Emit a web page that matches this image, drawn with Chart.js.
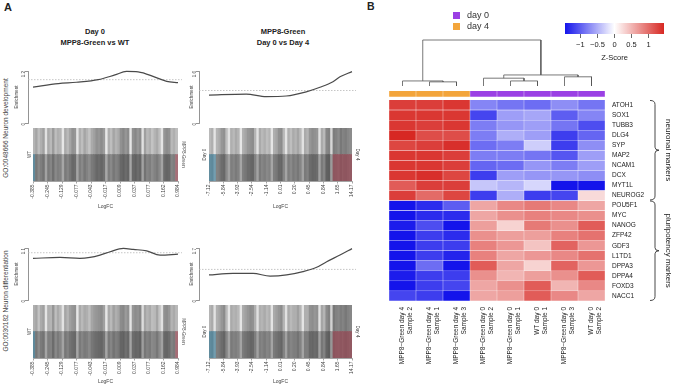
<!DOCTYPE html>
<html>
<head>
<meta charset="utf-8">
<title>Barcode plots and marker heatmap</title>
<script src="https://cdn.jsdelivr.net/npm/chart.js@4.4.1/dist/chart.umd.min.js"></script>
<style>
  html, body { margin: 0; padding: 0; background: #fff; }
  body { position: relative; width: 676px; height: 385px; overflow: hidden;
         font-family: "Liberation Sans", Arial, sans-serif; color: #222; }
  canvas { position: absolute; }
  .lbl { position: absolute; white-space: nowrap; }
  .title { position: absolute; width: 160px; text-align: center; font-size: 7.5px;
           font-weight: bold; line-height: 11px; color: #222; }
  .go { position: absolute; font-size: 6.5px; color: #444; white-space: nowrap;
        transform: translate(-50%, -50%) rotate(-90deg); }
  .key { position: absolute; font-size: 9px; color: #333; line-height: 11px; white-space: nowrap; }
  .key i { display: inline-block; width: 7px; height: 7px; margin-right: 7px; vertical-align: -0.5px; }
</style>
</head>
<body>
<div class="lbl" style="left:4px;top:1px;font-size:11px;font-weight:bold;">A</div>
<div class="lbl" style="left:367px;top:0px;font-size:10.5px;font-weight:bold;">B</div>
<div class="title" style="left:15px;top:26px;">Day 0<br>MPP8-Green vs WT</div>
<div class="title" style="left:203px;top:26px;">MPP8-Green<br>Day 0 vs Day 4</div>
<div class="go" style="left:5px;top:128px;">GO:0048666 Neuron development</div>
<div class="go" style="left:5px;top:301px;">GO:0030182 Neuron differentiation</div>

<canvas id="eTL" width="182" height="70" style="left:0px;top:60px"></canvas>
<canvas id="bTL" width="170" height="84" style="left:20px;top:126px"></canvas>
<canvas id="eTR" width="185" height="70" style="left:171px;top:60px"></canvas>
<canvas id="bTR" width="169" height="84" style="left:196px;top:126px"></canvas>
<canvas id="eBL" width="182" height="70" style="left:0px;top:237px"></canvas>
<canvas id="bBL" width="170" height="82" style="left:20px;top:303px"></canvas>
<canvas id="eBR" width="185" height="70" style="left:171px;top:237px"></canvas>
<canvas id="bBR" width="169" height="82" style="left:196px;top:303px"></canvas>

<canvas id="dendro" width="240" height="60" style="left:380px;top:30px"></canvas>
<canvas id="heat" width="296" height="305" style="left:380px;top:80px"></canvas>
<canvas id="zbar" width="121" height="50" style="left:555px;top:15px"></canvas>

<script>
// ---------- Panel A data: enrichment curves (x = relative rank position 0..1) ----------
const devWtPos   = [0, 0.175, 0.3, 0.45, 0.565, 0.645, 0.725, 0.841, 0.922, 1];
const devWtVal   = [0.83, 0.91, 0.94, 1.0, 1.11, 1.19, 1.18, 1.06, 0.96, 0.93];
const devDayPos  = [0, 0.26, 0.4, 0.54, 0.68, 0.776, 0.867, 0.916, 1];
const devDayVal  = [0.86, 0.89, 0.81, 0.83, 0.96, 1.10, 1.27, 1.42, 1.58];
const difWtPos   = [0, 0.186, 0.324, 0.393, 0.462, 0.531, 0.623, 0.692, 0.784, 0.876, 1];
const difWtVal   = [0.88, 0.90, 0.88, 0.90, 0.95, 1.02, 1.09, 1.07, 1.04, 0.95, 0.97];
const difDayPos  = [0, 0.168, 0.308, 0.427, 0.543, 0.657, 0.753, 0.823, 0.916, 1];
const difDayVal  = [0.82, 0.87, 0.87, 0.78, 0.82, 0.93, 1.07, 1.25, 1.47, 1.68];

// y-axis upper tick of each enrichment plot
const yTopDevWt = 1.2, yTopDevDay = 1.6, yTopDifWt = 1.1, yTopDifDay = 1.7;

// barcode stripe grey levels (top half), left to right
const devWtBars = [
  180,165,190,175,160,225,170,185,155,190,175,180,230,170,185,165,145,150,228,175,
  190,165,180,195,170,160,145,150,140,155,232,175,190,165,180,170,145,135,150,140,
  230,145,135,150,140,225,160,185,175,195,180,170,190,228,150,140,145,185,175,190];
const devDayBars = [
  185,175,228,180,170,150,145,190,225,175,185,170,180,230,175,165,150,145,140,180,
  226,170,185,175,190,180,230,175,165,145,140,185,228,175,190,170,180,165,185,225,
  170,180,150,140,145,150,226,170,185,135,130,215,125,130,140,120,130,125,135,140];
const difWtBars = [
  175,165,195,170,160,228,175,180,150,190,170,185,226,165,180,160,150,145,230,170,
  185,170,175,190,165,155,150,145,140,160,230,170,185,160,175,165,140,135,155,145,
  228,150,140,145,135,220,165,180,170,190,185,165,195,225,145,140,150,180,170,185];
const difDayBars = [
  180,170,226,175,165,150,140,185,228,170,180,175,185,228,170,160,150,140,145,175,
  225,175,180,170,185,175,228,170,160,150,140,180,225,170,185,175,175,160,180,228,
  175,175,145,140,150,145,225,165,180,140,130,210,120,130,135,125,130,120,130,135];

// number of stripes in the down (blue) / up (red) ends
const wtDownN = 1, wtUpN = 1, dayDownN = 3, dayUpN = 8;

// LogFC quantile labels under the barcodes
const wtTicks  = ["-0.385","-0.245","-0.129","-0.077","-0.043","-0.017","0.009","0.037","0.077","0.162","0.984"];
const dayTicks = ["-7.12","-5.84","-3.93","-2.54","-1.14","0.01","0.20","0.45","0.84","1.65","14.17"];

// ---------- Panel B data ----------
const genes = ["ATOH1","SOX1","TUBB3","DLG4","SYP","MAP2","NCAM1","DCX","MYT1L","NEUROG2",
               "POU5F1","MYC","NANOG","ZFP42","GDF3","L1TD1","DPPA3","DPPA4","FOXD3","NACC1"];
const samples = [
  ["MPP8\u2212Green day 4","Sample 2"], ["MPP8\u2212Green day 4","Sample 1"],
  ["MPP8\u2212Green day 4","Sample 3"], ["MPP8\u2212Green day 0","Sample 2"],
  ["MPP8\u2212Green day 0","Sample 1"], ["WT day 0","Sample 1"],
  ["MPP8\u2212Green day 0","Sample 3"], ["WT day 0","Sample 2"]];
const sampleDay = ["day 4","day 4","day 4","day 0","day 0","day 0","day 0","day 0"];
const zScores = [
  [1.30, 1.30, 1.35, -0.75, -0.85, -0.90, -0.70, -0.85],
  [1.35, 1.35, 1.35, -1.15, -0.60, -0.55, -1.00, -0.75],
  [1.35, 1.30, 1.35, -0.80, -0.65, -0.60, -0.85, -1.10],
  [1.45, 1.20, 1.20, -0.80, -0.50, -0.60, -1.20, -0.95],
  [1.25, 1.30, 1.40, -0.90, -0.80, -0.30, -1.20, -0.70],
  [1.35, 1.35, 1.30, -0.80, -0.80, -0.85, -1.05, -0.60],
  [1.35, 1.35, 1.30, -0.95, -0.90, -0.65, -0.80, -0.60],
  [1.35, 1.40, 1.25, -1.20, -0.60, -0.65, -0.65, -0.70],
  [1.10, 1.30, 1.30, -0.35, -0.45, -0.25, -1.50, -1.50],
  [1.30, 1.00, 1.25, -1.20, -0.50, -1.20, -1.15,  0.25],
  [-1.50, -1.30, -1.00, 0.60, 0.80, 0.90, 0.80, 0.60],
  [-1.45, -1.30, -1.30, 0.60, 0.75, 0.85, 0.80, 0.75],
  [-1.40, -1.10, -1.50, 0.65, 0.30, 0.90, 0.75, 1.10],
  [-1.50, -1.20, -1.30, 0.75, 0.65, 0.65, 0.85, 0.95],
  [-1.50, -1.20, -1.20, 0.85, 0.70, 0.40, 1.05, 0.70],
  [-1.45, -1.20, -1.35, 0.85, 0.60, 0.70, 0.80, 0.95],
  [-1.50, -0.90, -1.55, 1.10, 0.60, 0.30, 1.05, 0.70],
  [-1.40, -1.20, -1.20, 0.75, 0.50, 0.65, 0.75, 1.10],
  [-1.50, -1.20, -1.15, 0.60, 0.75, 1.10, 0.50, 0.80],
  [-1.15, -1.20, -1.50, 0.60, 0.65, 1.10, 0.80, 0.60]];
const geneGroups = [
  { label: "neuronal markers", first: 0, last: 9 },
  { label: "pluripotency markers", first: 10, last: 19 }];

// column dendrogram, hclust style: negative = leaf (1-based), positive = earlier merge
const dendroMerge  = [[-2, -3], [-1, 1], [-5, -6], [-4, 3], [-7, -8], [4, 5], [2, 6]];
const dendroHeight = [0.9, 1.1, 1.1, 1.7, 2.0, 2.4, 10];

const zTicks = [-1, -0.5, 0, 0.5, 1];
const zLimit = 1.45;
const dayColors = { "day 0": "#9b40e4", "day 4": "#f3a53b" };

// ---------- helpers ----------
Chart.defaults.font.family = '"Liberation Sans", Arial, sans-serif';

const rgb = (r, g, b) => `rgb(${Math.round(r)},${Math.round(g)},${Math.round(b)})`;
const mix = (a, b, t) => a.map((v, i) => v + (b[i] - v) * t);

function zColor(z) {
  const t = Math.min(1, Math.abs(z) / zLimit);
  const end = z < 0 ? [20, 20, 235] : [215, 40, 35];
  return rgb(...end.map(v => 255 + (v - 255) * t));
}

const noPlugins = { legend: { display: false }, tooltip: { enabled: false } };

function enrichmentChart(id, pos, vals, yTop, xMin, titlePad) {
  return new Chart(document.getElementById(id), {
    type: "line",
    data: {
      datasets: [
        { data: pos.map((x, i) => ({ x: x, y: vals[i] })), borderColor: "#4a4a4a", borderWidth: 1.2,
          pointRadius: 0, cubicInterpolationMode: "monotone", clip: false },
        { data: [{ x: xMin, y: 1 }, { x: 1.03, y: 1 }], borderColor: "#b8b8b8", borderWidth: 0.8,
          borderDash: [1.5, 1.5], pointRadius: 0, clip: false }
      ]
    },
    options: {
      responsive: false, animation: false,
      layout: { padding: { top: 11, right: 4, bottom: 7 } },
      plugins: noPlugins,
      scales: {
        x: { type: "linear", min: xMin, max: 1, display: false },
        y: {
          min: 0, max: yTop,
          afterFit: s => { s.width = 28; },
          afterBuildTicks: s => { s.ticks = [{ value: 0 }, { value: yTop }]; },
          grid: { drawOnChartArea: false, tickLength: 3, color: "#666", lineWidth: 0.7 },
          border: { color: "#666", width: 0.7 },
          ticks: { font: { size: 4.5 }, color: "#444", padding: 1, minRotation: 90, maxRotation: 90 },
          title: { display: true, text: "Enrichment", font: { size: 4.5 }, color: "#444", padding: { top: titlePad } }
        }
      }
    }
  });
}

function barcodeChart(id, grays, downN, upN, tickLabels, leftLabel, rightLabel, axisH, sides) {
  const n = grays.length;
  const idx = grays.map((g, i) => i);
  const topCol = grays.map(g => rgb(g, g, g));
  const botCol = grays.map((g, i) => {
    let c = [g * 0.72, g * 0.72, g * 0.72];
    if (i < downN) c = mix(c, [55, 150, 190], 0.45);
    if (i >= n - upN) c = mix(c, [205, 80, 100], 0.45);
    return rgb(...c);
  });
  const side = (pos, text, w, pad) => ({
    min: 0, max: 2, position: pos, stacked: true,
    afterFit: s => { s.width = w; },
    ticks: { display: false }, grid: { display: false }, border: { display: false },
    title: { display: true, text: text, font: { size: 4.5 }, color: "#444", padding: { top: pad } }
  });
  return new Chart(document.getElementById(id), {
    type: "bar",
    data: {
      datasets: [
        // lower half (darker, tinted at the ends) and upper half of each stripe, stacked
        { data: idx.map(i => ({ x: i, y: 1 })), backgroundColor: botCol },
        { data: idx.map(i => ({ x: i, y: 1 })), backgroundColor: topCol }
      ]
    },
    options: {
      responsive: false, animation: false,
      layout: { padding: { top: 2 } },
      plugins: noPlugins,
      datasets: { bar: { barPercentage: 1, categoryPercentage: 1, borderWidth: 0 } },
      scales: {
        x: {
          type: "linear", min: -0.5, max: n - 0.5, offset: false, stacked: true,
          afterBuildTicks: s => {
            s.ticks = tickLabels.map((t, k) => ({ value: -0.5 + k * n / (tickLabels.length - 1) }));
          },
          afterFit: s => { s.height = axisH; },
          grid: { drawOnChartArea: false, offset: false, tickLength: 2.5, color: "#666", lineWidth: 0.6 },
          border: { color: "#666", width: 0.6 },
          ticks: { callback: (v, i) => tickLabels[i], font: { size: 5 }, color: "#444",
                   minRotation: 90, maxRotation: 90, autoSkip: false, padding: 1 },
          title: { display: true, text: "LogFC", font: { size: 5 }, color: "#444", padding: 0 }
        },
        y: side("left", leftLabel, sides[0], sides[1]),
        y2: side("right", rightLabel, sides[2], sides[3])
      }
    }
  });
}

// ---------- Panel A ----------
const xMinWt = -5 / 145, xMinDay = -10 / 143;
enrichmentChart("eTL", devWtPos, devWtVal, yTopDevWt, xMinWt, 14);
enrichmentChart("eTR", devDayPos, devDayVal, yTopDevDay, xMinDay, 18);
enrichmentChart("eBL", difWtPos, difWtVal, yTopDifWt, xMinWt, 14);
enrichmentChart("eBR", difDayPos, difDayVal, yTopDifDay, xMinDay, 18);

barcodeChart("bTL", devWtBars, wtDownN, wtUpN, wtTicks, "WT", "MPP8-Green", 29, [13, 7, 12, 4]);
barcodeChart("bTR", devDayBars, dayDownN, dayUpN, dayTicks, "Day 0", "Day 4", 29, [13, 6, 13, 5]);
barcodeChart("bBL", difWtBars, wtDownN, wtUpN, wtTicks, "WT", "MPP8-Green", 27, [13, 7, 12, 4]);
barcodeChart("bBR", difDayBars, dayDownN, dayUpN, dayTicks, "Day 0", "Day 4", 27, [13, 6, 13, 5]);

// ---------- Panel B: legend ----------
Object.keys(dayColors).forEach((day, k) => {
  const el = document.createElement("div");
  el.className = "key";
  el.style.left = "453px";
  el.style.top = (10 + k * 11) + "px";
  el.innerHTML = `<i style="background:${dayColors[day]}"></i>${day}`;
  document.body.appendChild(el);
});

// ---------- Panel B: dendrogram ----------
function dendroSegments() {
  const nodes = [];
  const point = ref => (ref < 0 ? { x: -ref - 1, h: 0 } : nodes[ref - 1]);
  return dendroMerge.map((pair, k) => {
    const a = point(pair[0]), b = point(pair[1]), h = dendroHeight[k];
    nodes.push({ x: (a.x + b.x) / 2, h: h });
    return [{ x: a.x, y: a.h }, { x: a.x, y: h }, { x: b.x, y: h }, { x: b.x, y: b.h }];
  });
}

new Chart(document.getElementById("dendro"), {
  type: "line",
  data: {
    datasets: dendroSegments().map(seg => ({
      data: seg, borderColor: "#555", borderWidth: 0.8, pointRadius: 0, tension: 0, clip: false
    }))
  },
  options: {
    responsive: false, animation: false,
    layout: { padding: { left: 9, right: 15, top: 10, bottom: 4 } },
    plugins: noPlugins,
    scales: {
      x: { type: "linear", min: -0.5, max: samples.length - 0.5, display: false },
      y: { min: 0, max: 10, display: false }
    }
  }
});

// ---------- Panel B: heatmap ----------
const annotH = 0.6, annotGap = 0.3;
const rowStart = annotH + annotGap;

// curly brackets + group names to the right of the gene labels
const groupBrackets = {
  id: "groupBrackets",
  afterDraw(chart) {
    const { ctx, chartArea, scales } = chart;
    const y = scales.y;
    const x0 = chartArea.right + 50;
    ctx.save();
    ctx.strokeStyle = "#333";
    ctx.lineWidth = 0.9;
    geneGroups.forEach(g => {
      const top = y.getPixelForValue(rowStart + g.first) + 0.5;
      const bot = y.getPixelForValue(rowStart + g.last + 1) - 0.5;
      const mid = (top + bot) / 2;
      ctx.beginPath();
      ctx.moveTo(x0 - 5, top);
      ctx.quadraticCurveTo(x0, top, x0, top + 4);
      ctx.lineTo(x0, mid - 3);
      ctx.quadraticCurveTo(x0, mid, x0 + 4, mid);
      ctx.quadraticCurveTo(x0, mid, x0, mid + 3);
      ctx.lineTo(x0, bot - 4);
      ctx.quadraticCurveTo(x0, bot, x0 - 5, bot);
      ctx.stroke();
      ctx.save();
      ctx.translate(x0 + 13, mid);
      ctx.rotate(Math.PI / 2);
      ctx.textAlign = "center";
      ctx.textBaseline = "middle";
      ctx.fillStyle = "#222";
      ctx.font = '8px "Liberation Sans", Arial, sans-serif';
      ctx.fillText(g.label, 0, 0);
      ctx.restore();
    });
    ctx.restore();
  }
};

const cellStyle = { borderWidth: 0.5, borderColor: "rgba(255,255,255,0.3)", borderSkipped: false };

new Chart(document.getElementById("heat"), {
  type: "bar",
  data: {
    labels: samples,
    datasets: [
      Object.assign({ label: "day", data: samples.map(() => annotH),
                      backgroundColor: sampleDay.map(d => dayColors[d]) }, cellStyle),
      { label: "gap", data: samples.map(() => annotGap), backgroundColor: "rgba(0,0,0,0)", borderWidth: 0 },
      ...genes.map((g, r) => Object.assign({ label: g, data: samples.map(() => 1),
                                             backgroundColor: zScores[r].map(zColor) }, cellStyle))
    ]
  },
  options: {
    responsive: false, animation: false,
    layout: { padding: { left: 9, top: 6 } },
    plugins: noPlugins,
    datasets: { bar: { barPercentage: 1, categoryPercentage: 1 } },
    scales: {
      x: {
        stacked: true,
        afterFit: s => { s.height = 84; },
        grid: { display: false, drawTicks: false },
        border: { display: false },
        ticks: { font: { size: 6.5 }, color: "#222", minRotation: 90, maxRotation: 90,
                 autoSkip: false, padding: 6 }
      },
      y: {
        stacked: true, reverse: true, position: "right",
        min: 0, max: rowStart + genes.length,
        afterFit: s => { s.width = 71; },
        afterBuildTicks: s => { s.ticks = genes.map((g, i) => ({ value: rowStart + i + 0.5 })); },
        grid: { display: false, drawTicks: false },
        border: { display: false },
        ticks: { callback: (v, i) => genes[i], font: { size: 6.5 }, color: "#222", padding: 7, autoSkip: false }
      }
    }
  },
  plugins: [groupBrackets]
});

// ---------- Panel B: Z-score colour key ----------
new Chart(document.getElementById("zbar"), {
  type: "bar",
  data: {
    labels: [""],
    datasets: [{
      data: [[-zLimit, zLimit]],
      barPercentage: 1, categoryPercentage: 1,
      backgroundColor: c => {
        const area = c.chart.chartArea;
        if (!area) return zColor(0);
        const grad = c.chart.ctx.createLinearGradient(area.left, 0, area.right, 0);
        for (let s = 0; s <= 20; s++) grad.addColorStop(s / 20, zColor(-zLimit + 2 * zLimit * s / 20));
        return grad;
      }
    }]
  },
  options: {
    indexAxis: "y",
    responsive: false, animation: false,
    layout: { padding: { left: 10, right: 12, top: 8 } },
    plugins: noPlugins,
    scales: {
      y: { display: false },
      x: {
        type: "linear", min: -zLimit, max: zLimit,
        afterBuildTicks: s => { s.ticks = zTicks.map(v => ({ value: v })); },
        afterFit: s => { s.height = 31; },
        grid: { drawOnChartArea: false, tickLength: 4, color: "#444", lineWidth: 0.8 },
        border: { display: false },
        ticks: { callback: v => (v < 0 ? "\u2212" + Math.abs(v) : String(v)), font: { size: 7.5 },
                 color: "#222", padding: 2, maxRotation: 0 },
        title: { display: true, text: "Z-Score", font: { size: 7.5 }, color: "#222", padding: { bottom: 2.5 } }
      }
    }
  }
});
</script>
</body>
</html>
